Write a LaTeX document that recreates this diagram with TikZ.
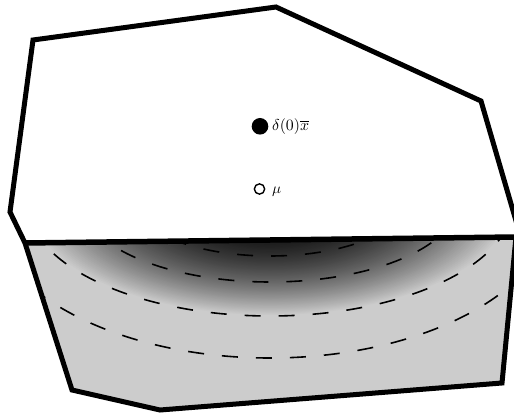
\documentclass[tikz,border=0pt]{standalone}
\usepackage{graphicx}
\definecolor{lgray}{gray}{0.8}
\tikzset{
  outline/.style={line width=5pt, line join=miter},
  cutline/.style={line width=5.5pt},
  contour/.style={line width=1.6pt, dash pattern=on 16pt off 18pt},
  lbl/.style={anchor=west, inner sep=0pt},
}
\begin{document}
\begin{tikzpicture}[x=1pt,y=-1pt]
\useasboundingbox (0,0) rectangle (514,419);
\clip (0,0) rectangle (514,419);
% vertices
\coordinate (u1) at (10,212);
\coordinate (u2) at (33,40);
\coordinate (u3) at (276,7);
\coordinate (u4) at (481,101);
\coordinate (u5) at (521,238);
\coordinate (c1) at (25,243);
\coordinate (c2) at (516,237);
\coordinate (c3) at (540,236.7);
\coordinate (l1) at (502,383);
\coordinate (l2) at (160,410);
\coordinate (l3) at (72,390);
\coordinate (ctr) at (270,200);
% lower region
\fill[lgray] (c1) -- (c2) -- (l1) -- (l2) -- (l3) -- cycle;
\begin{scope}
  \clip (c1) -- (c2) -- (l1) -- (l2) -- (l3) -- cycle;
  \foreach \i in {100,99,...,1}{
    \pgfmathsetmacro\g{0.8*(\i/100)^2}
    \pgfmathsetmacro\ra{2.44*\i}
    \pgfmathsetmacro\rb{1.16*\i}
    \definecolor{shd}{gray}{\g}
    \fill[shd] (ctr) ellipse [x radius=\ra pt, y radius=\rb pt];
  }
  \draw[contour] (ctr) ellipse [x radius=137pt, y radius=56pt];
  \draw[contour] (ctr) ellipse [x radius=189pt, y radius=82pt];
  \draw[contour] (ctr) ellipse [x radius=244pt, y radius=116pt];
  \draw[contour] (ctr) ellipse [x radius=286pt, y radius=158pt];
\end{scope}
% outlines
\draw[outline] (u5) -- (u4) -- (u3) -- (u2) -- (u1) -- (c1) -- (l3) -- (l2) -- (l1) -- (c2);
\draw[cutline] (c1) -- (c3);
% points
\node[circle, fill=black, minimum size=16.6pt, inner sep=0pt] (xbar) at (260,126.3) {};
\node[lbl] (xbarlabel) at (272,126.5) {\scalebox{1.58}{$\delta(0)\overline{x}$}};
\node[circle, draw=black, line width=1.4pt, minimum size=10.3pt, inner sep=0pt] (mu) at (259.5,189) {};
\node[lbl] (mulabel) at (272,191.7) {\scalebox{1.5}{$\mu$}};
\end{tikzpicture}
\end{document}
